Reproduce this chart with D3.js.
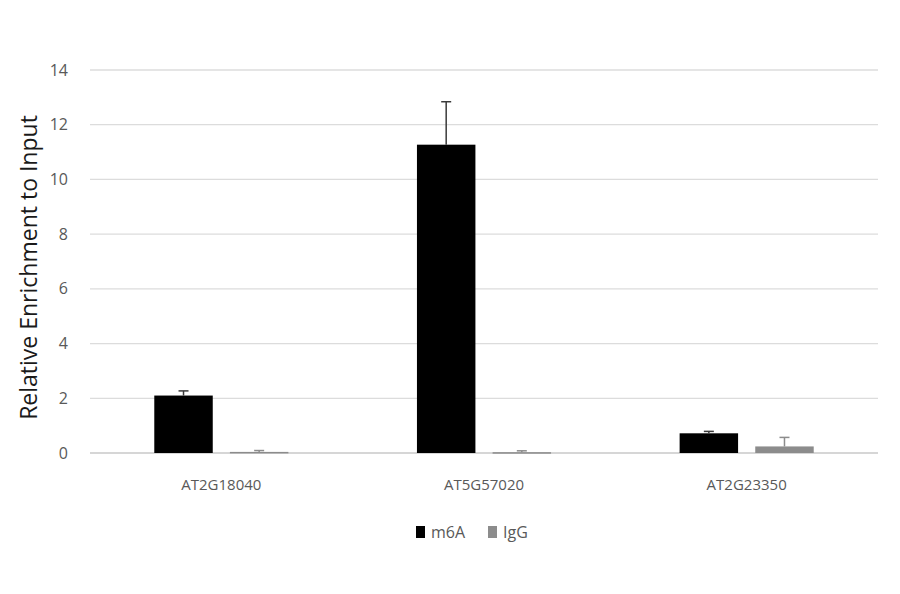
<!DOCTYPE html>
<html>
<head>
<meta charset="utf-8">
<script src="https://cdn.jsdelivr.net/npm/d3@7"></script>
<style>
  body { margin: 0; background: #fff; }
  text { font-family: "Open Sans", Lato, sans-serif; }
</style>
</head>
<body>
<div id="chart"></div>
<script>
// DATA
const genes = ["AT2G18040", "AT5G57020", "AT2G23350"];
const series = ["m6A", "IgG"];
const m6aValues = [2.1, 11.27, 0.72];
const m6aErrors = [0.17, 1.57, 0.07];
const iggValues = [0.04, 0.03, 0.24];
const iggErrors = [0.05, 0.05, 0.33];
const yTicks = [0, 2, 4, 6, 8, 10, 12, 14];

const width = 900;
const height = 594;
const margin = { top: 70, right: 22, bottom: 141, left: 90 };

const colors = { m6A: "#000000", IgG: "#8c8c8c" };
const errColors = { m6A: "#3a3a3a", IgG: "#8c8c8c" };

const rows = genes.map((g, i) => ({
  gene: g,
  bars: [
    { key: "m6A", value: m6aValues[i], err: m6aErrors[i] },
    { key: "IgG", value: iggValues[i], err: iggErrors[i] }
  ]
}));

const svg = d3.select("#chart")
  .append("svg")
  .attr("width", width)
  .attr("height", height);

const x0 = d3.scaleBand()
  .domain(genes)
  .range([margin.left, width - margin.right])
  .padding(0);

const x1 = d3.scaleBand()
  .domain(series)
  .range([0, x0.bandwidth()])
  .paddingInner(0.227)
  .paddingOuter(0.85);

const y = d3.scaleLinear()
  .domain([0, 14])
  .range([height - margin.bottom, margin.top]);

// GRIDLINES
svg.append("g")
  .selectAll("line")
  .data(yTicks)
  .enter()
  .append("line")
  .attr("x1", margin.left)
  .attr("x2", width - margin.right)
  .attr("y1", d => y(d))
  .attr("y2", d => y(d))
  .attr("stroke", d => d === 0 ? "#c8c8c8" : "#dcdcdc")
  .attr("stroke-width", 1.3);

// Y TICK LABELS
svg.append("g")
  .selectAll("text")
  .data(yTicks)
  .enter()
  .append("text")
  .attr("x", 68)
  .attr("y", d => y(d))
  .attr("dy", "0.35em")
  .attr("text-anchor", "end")
  .style("fill", "#595959")
  .style("font-size", "16px")
  .text(d => d);

// Y AXIS TITLE
svg.append("text")
  .attr("transform", `translate(37, ${(margin.top + height - margin.bottom) / 2 + 6}) rotate(-90)`)
  .attr("text-anchor", "middle")
  .style("fill", "#1a1a1a")
  .style("font-size", "23px")
  .text("Relative Enrichment to Input");

// BARS
const groups = svg.append("g")
  .selectAll("g")
  .data(rows)
  .enter()
  .append("g")
  .attr("transform", d => `translate(${x0(d.gene)},0)`);

groups.selectAll("rect")
  .data(d => d.bars)
  .enter()
  .append("rect")
  .attr("x", d => x1(d.key))
  .attr("width", x1.bandwidth())
  .attr("y", d => y(d.value))
  .attr("height", d => Math.max(y(0) - y(d.value), 1.5))
  .attr("fill", d => colors[d.key]);

// ERROR BARS
const err = groups.selectAll("g.err")
  .data(d => d.bars)
  .enter()
  .append("g")
  .attr("class", "err")
  .attr("stroke", d => errColors[d.key])
  .attr("stroke-width", 1.5);

err.append("line")
  .attr("x1", d => x1(d.key) + x1.bandwidth() / 2)
  .attr("x2", d => x1(d.key) + x1.bandwidth() / 2)
  .attr("y1", d => y(d.value))
  .attr("y2", d => y(d.value + d.err));

err.append("line")
  .attr("x1", d => x1(d.key) + x1.bandwidth() / 2 - 5)
  .attr("x2", d => x1(d.key) + x1.bandwidth() / 2 + 5)
  .attr("y1", d => y(d.value + d.err))
  .attr("y2", d => y(d.value + d.err));

// CATEGORY LABELS
svg.append("g")
  .selectAll("text")
  .data(genes)
  .enter()
  .append("text")
  .attr("x", d => x0(d) + x0.bandwidth() / 2)
  .attr("y", height - margin.bottom + 32)
  .attr("dy", "0.35em")
  .attr("text-anchor", "middle")
  .style("fill", "#595959")
  .style("font-size", "15px")
  .text(d => d);

// LEGEND
const legend = svg.append("g")
  .attr("transform", "translate(416, 532)");

const item = legend.selectAll("g")
  .data(series)
  .enter()
  .append("g")
  .attr("transform", (d, i) => `translate(${i * 72},0)`);

item.append("rect")
  .attr("x", 0)
  .attr("y", -6)
  .attr("width", 9)
  .attr("height", 12)
  .attr("fill", d => colors[d]);

item.append("text")
  .attr("x", 15)
  .attr("y", 0)
  .attr("dy", "0.35em")
  .style("fill", "#595959")
  .style("font-size", "16px")
  .text(d => d);
</script>
</body>
</html>
